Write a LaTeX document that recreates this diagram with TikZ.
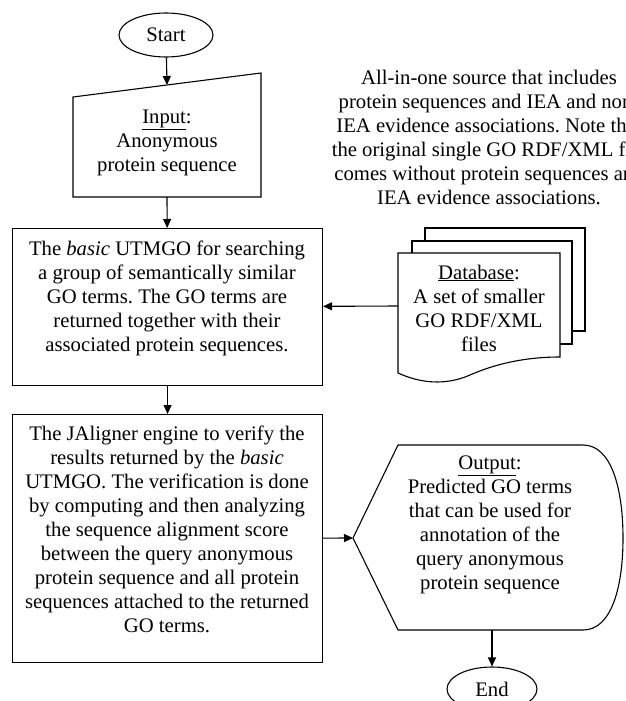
\documentclass[tikz,border=0pt]{standalone}
\usepackage{fontspec}
\setmainfont{Liberation Serif}
\usetikzlibrary{arrows.meta,shapes.geometric}
\begin{document}
\frenchspacing
\begin{tikzpicture}[x=1pt,y=-1pt,
  shp/.style={draw=black, line width=1.1pt, fill=white},
  txt/.style={align=center, inner sep=0pt, font=\fontsize{20.7}{24}\selectfont},
  arr/.style={draw=black, line width=1.1pt, -{Triangle[length=9pt,width=8pt]}},
  oval/.style={shp, ellipse, minimum width=94pt, minimum height=44pt, inner sep=0pt, font=\fontsize{20.7}{24}\selectfont},
  boxnode/.style={shp, rectangle, inner sep=0pt, anchor=north west}
]
\useasboundingbox (0,0) rectangle (625,701);
\clip (0,0) rectangle (625,701);

% Start
\node[oval] (start) at (166,35) {Start};

% Input (manual input shape)
\draw[shp] (73,97) -- (261,73) -- (261,197) -- (73,197) -- cycle;
\coordinate (intop) at (167,85);
\coordinate (inbot) at (167,197);
\node[txt] (intxt) at (167,143) {\underline{Input}:\\Anonymous\\protein sequence};

% Box 1
\node[boxnode, minimum width=310pt, minimum height=157pt] (b1) at (12,228) {};
\node[txt] (b1t) at (167,298) {The \textit{basic} UTMGO for searching\\a group of semantically similar\\GO terms. The GO terms are\\returned together with their\\associated protein sequences.};

% Box 2
\node[boxnode, minimum width=310pt, minimum height=248pt] (b2) at (12,414) {};
\node[txt] (b2t) at (167,529) {The JAligner engine to verify the\\results returned by the \textit{basic}\\UTMGO. The verification is done\\by computing and then analyzing\\the sequence alignment score\\between the query anonymous\\protein sequence and all protein\\sequences attached to the returned\\GO terms.};

% Note text (runs past the right edge, as in the original)
\node[txt] (note) at (489,137) {All-in-one source that includes\\protein sequences and IEA and non-\\IEA evidence associations. Note that\\the original single GO RDF/XML file\\comes without protein sequences and\\IEA evidence associations.};

% Database (stack of documents)
\draw[shp] (425,228) rectangle (585,331);
\draw[shp] (412,241) rectangle (572,344);
\draw[shp] (398,253) -- (560,253) -- (560,357)
  .. controls (525,357) and (495,364) .. (470,375)
  .. controls (445,386) and (420,383) .. (398,373) -- cycle;
\coordinate (dbl) at (398,306);
\node[txt] (dbt) at (479,308) {\underline{Database}:\\A set of smaller\\GO RDF/XML\\files};

% Output (display shape)
\draw[shp] (353,538) -- (398,445) -- (583,445)
  .. controls (612,445) and (623,490) .. (623,538)
  .. controls (623,586) and (612,630) .. (583,630)
  -- (398,630) -- cycle;
\coordinate (outL) at (353,538);
\coordinate (outB) at (492,630);
\node[txt] (outt) at (490,525) {\underline{Output}:\\Predicted GO terms\\that can be used for\\annotation of the\\query anonymous\\protein sequence};

% End
\node[oval, minimum width=90pt] (end) at (492,689) {End};

% Connectors
\draw[arr] (start) -- (intop);
\draw[arr] (inbot) -- (b1);
\draw[arr] (b1) -- (b2);
\draw[arr] (dbl) -- (b1);
\draw[arr] (b2) -- (outL);
\draw[arr] (outB) -- (end);
\end{tikzpicture}
\end{document}
